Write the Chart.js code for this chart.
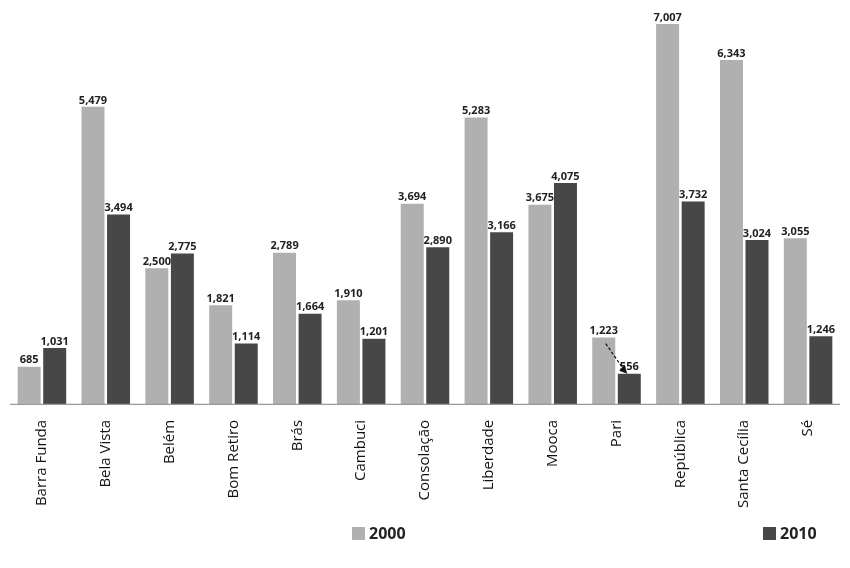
<!DOCTYPE html>
<html><head><meta charset="utf-8">
<script src="https://cdn.jsdelivr.net/npm/chart.js@4"></script>
<style>body{margin:0;background:#fff}#w{position:relative;width:850px;height:568px}
.lg{position:absolute;top:522px;font:bold 16px 'Open Sans',sans-serif;color:#222;display:flex;align-items:center}
.lg span{display:inline-block;width:13px;height:13px;margin-right:4px}</style>
</head><body><div id="w"><canvas id="c" width="850" height="568"></canvas>
<div class="lg" style="left:352px"><span style="background:#b0b0b0"></span>2000</div>
<div class="lg" style="left:763px"><span style="background:#474747"></span>2010</div></div>
<script>
const categories=["Barra Funda","Bela Vista","Belém","Bom Retiro","Brás","Cambuci","Consolação","Liberdade","Mooca","Pari","República","Santa Cecília","Sé"];
const values2000=[685,5479,2500,1821,2789,1910,3694,5283,3675,1223,7007,6343,3055];
const values2010=[1031,3494,2775,1114,1664,1201,2890,3166,4075,556,3732,3024,1246];
const labelsPlugin={id:'lbl',afterDatasetsDraw(ch){const x=ch.ctx;x.save();x.font='bold 11px "Open Sans",sans-serif';x.fillStyle='#222';x.textAlign='center';x.textBaseline='bottom';
ch.data.datasets.forEach((d,i)=>{ch.getDatasetMeta(i).data.forEach((b,j)=>{x.fillText(d.data[j].toLocaleString('en-US'),b.x,b.y-1);});});
const a=ch.getDatasetMeta(0).data[9],b=ch.getDatasetMeta(1).data[9];
x.strokeStyle='#111';x.setLineDash([3,2]);x.lineWidth=1.2;x.beginPath();x.moveTo(a.x+2,a.y+6);x.lineTo(b.x-4,b.y-2);x.stroke();x.setLineDash([]);
x.beginPath();x.moveTo(b.x-2,b.y);x.lineTo(b.x-10,b.y-3);x.lineTo(b.x-5,b.y-9);x.closePath();x.fillStyle='#111';x.fill();
const ca=ch.chartArea;x.strokeStyle='#999';x.beginPath();x.moveTo(ca.left,ca.bottom+0.5);x.lineTo(ca.right,ca.bottom+0.5);x.stroke();x.restore();}};
new Chart(document.getElementById('c'),{type:'bar',
data:{labels:categories,datasets:[{label:'2000',data:values2000,backgroundColor:'#b0b0b0'},{label:'2010',data:values2010,backgroundColor:'#474747'}]},
options:{responsive:false,animation:false,layout:{padding:{left:10,right:10,top:0,bottom:52}},
plugins:{legend:{display:false},tooltip:{enabled:false}},
scales:{x:{categoryPercentage:0.68,barPercentage:1,grid:{display:false},border:{display:false},
ticks:{maxRotation:90,minRotation:90,color:'#111',font:{family:'Open Sans',size:15},padding:8}},
y:{display:false,min:0,max:7450}}},plugins:[labelsPlugin]});
</script></body></html>
